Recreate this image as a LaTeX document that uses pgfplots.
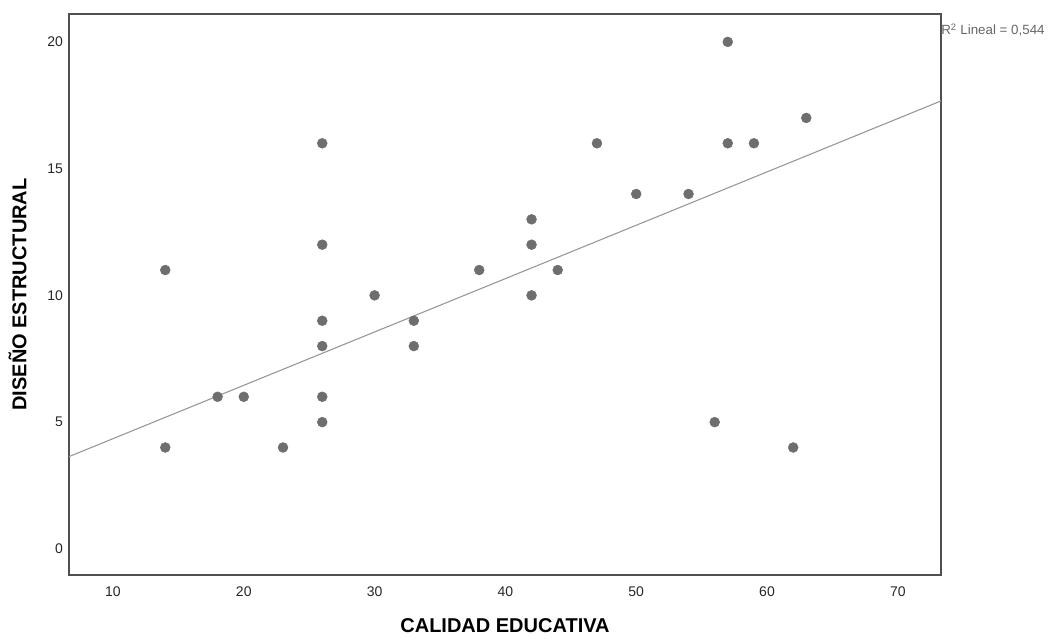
\documentclass[border=0pt]{standalone}
\usepackage{pgfplots}
\pgfplotsset{compat=1.18}
\usepackage{fontspec}
\setmainfont{Liberation Sans}
\definecolor{pt}{RGB}{110,110,110}
\definecolor{ln}{RGB}{150,150,150}
\definecolor{ax}{RGB}{80,80,80}
\begin{document}
\begin{tikzpicture}
\useasboundingbox (-51.75pt,-48pt) rectangle (738.75pt,431.25pt);
\begin{axis}[
  scale only axis, width=654pt, height=420.75pt,
  xmin=6.64, xmax=73.3, ymin=-1.03, ymax=21.1,
  xtick={10,20,...,70}, ytick={0,5,...,20},
  major tick length=0pt,
  axis line style={ax, line width=1.1pt},
  tick label style={font=\fontsize{10.5}{12}\selectfont, text=black!85},
  /pgf/number format/assume math mode=true,
  xticklabel style={yshift=-5pt},
  yticklabel style={xshift=-1pt},
  xlabel={\textbf{CALIDAD EDUCATIVA}},
  ylabel={\textbf{DISEÑO ESTRUCTURAL}},
  label style={font=\fontsize{15}{18}\selectfont},
  xlabel style={at={(0.5,0)}, anchor=base, yshift=-43pt},
  ylabel style={at={(0,0.5)}, anchor=base, yshift=32pt},
  clip=false,
]
\addplot[ln, line width=0.8pt] coordinates {(6.64,3.64) (73.3,17.67)};
\addplot[only marks, mark=*, mark size=3.7pt, mark options={fill=pt, draw=pt}] coordinates {
(14,11)(14,4)(18,6)(20,6)(23,4)(26,16)(26,12)(26,9)(26,8)(26,6)(26,5)
(30,10)(33,9)(33,8)(38,11)(42,13)(42,12)(42,10)(44,11)(47,16)(50,14)
(54,14)(56,5)(57,20)(57,16)(59,16)(62,4)(63,17)};
\node[anchor=north west, inner sep=0pt, text=black!60, font=\fontsize{10}{12}\selectfont] at (rel axis cs:1,1) [yshift=-7pt] {R\textsuperscript{2} Lineal = 0,544};
\end{axis}
\end{tikzpicture}
\end{document}
